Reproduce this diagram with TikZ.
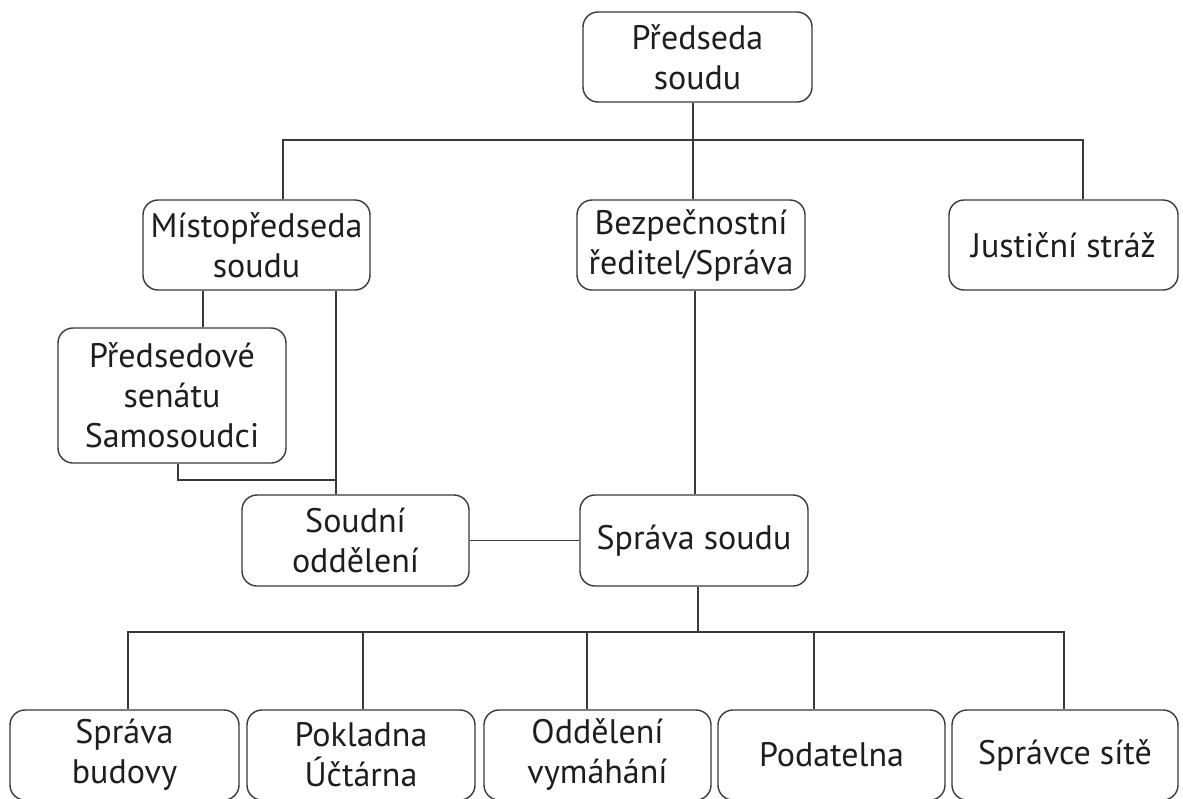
\documentclass[tikz,border=0pt]{standalone}
\usepackage{fontspec}
\setmainfont{PT Sans}
\begin{document}
\begin{tikzpicture}[x=1pt,y=-1pt,
  box/.style={draw=linegray, line width=1.4pt, rounded corners=15pt, inner sep=0pt,
    minimum height=90pt, text=textgray, align=center,
    font=\fontsize{34}{40}\selectfont},
  conn/.style={draw=linegray, line width=1.4pt}]
\definecolor{linegray}{HTML}{3A3A3A}
\definecolor{textgray}{HTML}{1E1E1E}
\useasboundingbox[fill=white] (0,0) rectangle (1183,798);
% top levels
\node[box, minimum width=229pt] (pred) at (697.5,57) {Předseda\\soudu};
\node[box, minimum width=227pt] (misto) at (256.5,245) {Místopředseda\\soudu};
\node[box, minimum width=228pt] (bezp) at (691,245) {Bezpečnostní\\ředitel/Správa};
\node[box, minimum width=229pt] (just) at (1063.5,245) {Justiční stráž};
\node[box, minimum width=228pt, minimum height=135pt] (psen) at (172,395.5) {Předsedové\\senátu\\Samosoudci};
\node[box, minimum width=227pt, minimum height=91pt] (soud) at (355.5,540.5) {Soudní\\oddělení};
\node[box, minimum width=228pt, minimum height=91pt] (sprava) at (694,540.5) {Správa soudu};
% bottom row
\node[box, minimum width=229pt] (b1) at (124.5,755) {Správa\\budovy};
\node[box, minimum width=228pt] (b2) at (361,755) {Pokladna\\Účtárna};
\node[box, minimum width=227pt] (b3) at (597.5,755) {Oddělení\\vymáhání};
\node[box, minimum width=227pt] (b4) at (831.5,755) {Podatelna};
\node[box, minimum width=226pt] (b5) at (1065,755) {Správce sítě};
% junction coordinates
\coordinate (jt) at (693,140);
\coordinate (jl) at (283,140);
\coordinate (jr) at (1083,140);
\coordinate (ja) at (203,0);
\coordinate (jb) at (336,0);
\coordinate (jc) at (178,480);
\coordinate (jd) at (336,480);
\coordinate (je) at (695,0);
\coordinate (jf) at (698,632);
\coordinate (jg) at (128,632);
\coordinate (jh) at (1064,632);
\coordinate (k2) at (363,632);
\coordinate (k3) at (587,632);
\coordinate (k4) at (814,632);
% connectors
\draw[conn] (pred.south -| jt) -- (bezp.north -| jt);
\draw[conn] (misto.north -| jl) -- (jl) -- (jr) -- (just.north -| jr);
\draw[conn] (misto.south -| ja) -- (psen.north -| ja);
\draw[conn] (misto.south -| jb) -- (soud.north -| jb);
\draw[conn] (psen.south -| jc) -- (jc) -- (jd);
\draw[conn] (soud.east) -- (sprava.west);
\draw[conn] (bezp.south -| je) -- (sprava.north -| je);
\draw[conn] (sprava.south -| jf) -- (jf);
\draw[conn] (b1.north -| jg) -- (jg) -- (jh) -- (b5.north -| jh);
\draw[conn] (k2) -- (b2.north -| k2);
\draw[conn] (k3) -- (b3.north -| k3);
\draw[conn] (k4) -- (b4.north -| k4);
\end{tikzpicture}
\end{document}
